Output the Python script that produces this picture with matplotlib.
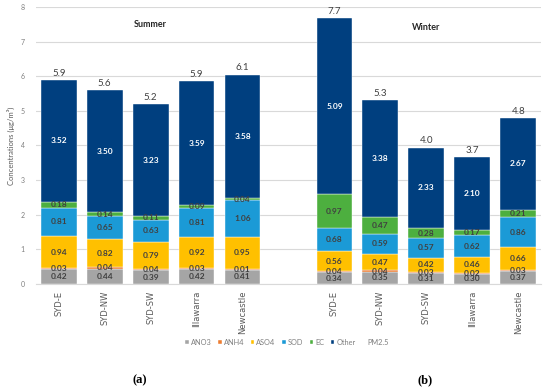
import numpy as np
import matplotlib
matplotlib.use('Agg')
import matplotlib.pyplot as plt
from matplotlib.patches import Patch

plt.rcParams['font.family'] = ['Lato', 'DejaVu Sans']

sites = ['SYD-E', 'SYD-NW', 'SYD-SW', 'Illawarra', 'Newcastle']
species = ['ANO3', 'ANH4', 'ASO4', 'SOD', 'EC', 'Other']
colors = ['#A5A5A5', '#ED7D31', '#FFC000', '#1B9AD6', '#4DAF3F', '#003F7F']

# summer values per species, site order as above
summer_ano3 = [0.42, 0.44, 0.39, 0.42, 0.41]
summer_anh4 = [0.03, 0.04, 0.04, 0.03, 0.01]
summer_aso4 = [0.94, 0.82, 0.79, 0.92, 0.95]
summer_sod = [0.81, 0.65, 0.63, 0.81, 1.06]
summer_ec = [0.18, 0.14, 0.11, 0.09, 0.04]
summer_other = [3.52, 3.50, 3.23, 3.59, 3.58]
summer_pm25 = [5.9, 5.6, 5.2, 5.9, 6.1]

# winter
winter_ano3 = [0.34, 0.35, 0.31, 0.30, 0.37]
winter_anh4 = [0.04, 0.04, 0.03, 0.02, 0.03]
winter_aso4 = [0.56, 0.47, 0.42, 0.46, 0.66]
winter_sod = [0.68, 0.59, 0.57, 0.62, 0.86]
winter_ec = [0.97, 0.47, 0.28, 0.17, 0.21]
winter_other = [5.09, 3.38, 2.33, 2.10, 2.67]
winter_pm25 = [7.7, 5.3, 4.0, 3.7, 4.8]

summer = [summer_ano3, summer_anh4, summer_aso4, summer_sod, summer_ec, summer_other]
winter = [winter_ano3, winter_anh4, winter_aso4, winter_sod, winter_ec, winter_other]

x = np.array([0, 1, 2, 3, 4, 6, 7, 8, 9, 10])
labels = sites + sites
width = 0.78
gray = '#595959'

fig = plt.figure(figsize=(5.5, 3.9), dpi=100)
ax = fig.add_axes([0.065, 0.272, 0.919, 0.71])

handles = []
bottom = np.zeros(len(x))
for i, name in enumerate(species):
    vals = np.array(summer[i] + winter[i])
    b = ax.bar(x, vals, width, bottom=bottom, color=colors[i], label=name,
               edgecolor='white', linewidth=0.3, zorder=3)
    handles.append(b)
    tc = 'white' if name == 'Other' else '#404040'
    for xi, v, b0 in zip(x, vals, bottom):
        ax.text(xi, b0 + v / 2, '%.2f' % v, ha='center', va='center',
                fontsize=6, fontweight='bold', color=tc, zorder=4)
    bottom += vals

# invisible PM2.5 series, only labels
pm = summer_pm25 + winter_pm25
handles.append(Patch(facecolor='none', edgecolor='none', label='PM2.5'))
for xi, tot, p in zip(x, bottom, pm):
    ax.text(xi, tot + 0.06, '%.1f' % p, ha='center', va='bottom',
            fontsize=7, color='#404040', zorder=4)

ax.set_xlim(-0.5, 10.5)
ax.set_ylim(0, 8)
ax.set_yticks(range(9))
ax.yaxis.grid(True, color='#D9D9D9', linewidth=0.8, zorder=0)
ax.tick_params(axis='y', length=0, labelsize=5, labelcolor='#7F7F7F', pad=8)
ax.set_xticks(x)
ax.set_xticklabels(labels, rotation=90, fontsize=6, color=gray,
                   fontfamily='DejaVu Sans')
ax.tick_params(axis='x', length=0, pad=5)
for s in ['top', 'right', 'left']:
    ax.spines[s].set_visible(False)
ax.spines['bottom'].set_color('#D9D9D9')

ax.set_ylabel('Concentrations (μg/m³)', fontsize=5.5, color=gray, labelpad=4)

ax.text(2, 7.49, 'Summer', ha='center', va='center', fontsize=6.5, fontweight='bold', color='#262626')
ax.text(8, 7.4, 'Winter', ha='center', va='center', fontsize=6.5, fontweight='bold', color='#262626')

leg = fig.legend(handles=handles, loc='center', bbox_to_anchor=(0.522, 0.123), ncol=7,
                 fontsize=5.3, frameon=False, handlelength=0.5, handleheight=0.5,
                 handletextpad=0.25, columnspacing=0.9)
for t in leg.get_texts():
    t.set_color('#7F7F7F')

fig.text(140 / 550, 1 - 380 / 390, '(a)', ha='center', va='center', fontsize=9,
         fontfamily='Liberation Serif', fontweight='bold')
fig.text(425 / 550, 1 - 380 / 390, '(b)', ha='center', va='center', fontsize=9,
         fontfamily='Liberation Serif', fontweight='bold')

fig.savefig('out.png', dpi=100)
